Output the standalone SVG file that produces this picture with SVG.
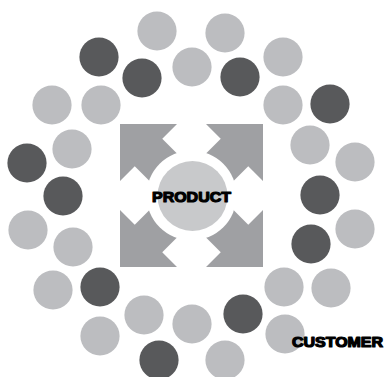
<svg xmlns="http://www.w3.org/2000/svg" width="384" height="377" viewBox="0 0 384 377">
<defs>
<style>
.l{fill:#bcbdc0}
.d{fill:#58595b}
.a{fill:#9fa0a3}
.t{font-family:"Liberation Sans",Arial,sans-serif;font-weight:bold;fill:#000;stroke:#000;stroke-width:1.2;stroke-linejoin:round}
</style>
<path id="arr" d="M-71.5,-71.5 L-14.5,-71.5 L-29.25,-56.75 L3.75,-23.75 L-23.75,3.75 L-56.75,-29.25 L-71.5,-14.5 Z"/>
</defs>
<rect width="384" height="377" fill="#fff"/>
<g id="circles">
<circle class="l" cx="157" cy="31" r="19.6"/>
<circle class="l" cx="225" cy="33" r="19.6"/>
<circle class="d" cx="99" cy="57" r="19.6"/>
<circle class="l" cx="192" cy="67" r="19.6"/>
<circle class="d" cx="142" cy="78" r="19.6"/>
<circle class="d" cx="240" cy="77" r="19.6"/>
<circle class="l" cx="283" cy="57" r="19.6"/>
<circle class="l" cx="52" cy="105" r="19.6"/>
<circle class="l" cx="101" cy="105" r="19.6"/>
<circle class="l" cx="283" cy="105" r="19.6"/>
<circle class="d" cx="330" cy="104" r="19.6"/>
<circle class="l" cx="72" cy="149" r="19.6"/>
<circle class="d" cx="27" cy="163" r="19.6"/>
<circle class="l" cx="310" cy="145" r="19.6"/>
<circle class="l" cx="355" cy="162" r="19.6"/>
<circle class="d" cx="63" cy="196" r="19.6"/>
<circle class="d" cx="320" cy="195" r="19.6"/>
<circle class="l" cx="28" cy="230" r="19.6"/>
<circle class="l" cx="73" cy="247" r="19.6"/>
<circle class="l" cx="355" cy="229" r="19.6"/>
<circle class="d" cx="311" cy="244" r="19.6"/>
<circle class="l" cx="53" cy="290" r="19.6"/>
<circle class="d" cx="100" cy="287" r="19.6"/>
<circle class="l" cx="284" cy="287" r="19.6"/>
<circle class="l" cx="331" cy="288" r="19.6"/>
<circle class="l" cx="144" cy="315" r="19.6"/>
<circle class="l" cx="192" cy="324" r="19.6"/>
<circle class="d" cx="243" cy="314" r="19.6"/>
<circle class="l" cx="100" cy="336" r="19.6"/>
<circle class="l" cx="285" cy="334" r="19.6"/>
<circle class="d" cx="159" cy="360" r="19.6"/>
<circle class="l" cx="225" cy="360" r="19.6"/>
</g>
<g id="arrows" transform="translate(191.5,195.5)">
<use href="#arr" class="a"/>
<use href="#arr" class="a" transform="scale(-1,1)"/>
<use href="#arr" class="a" transform="scale(1,-1)"/>
<use href="#arr" class="a" transform="scale(-1,-1)"/>
<circle r="45" fill="#fff"/>
</g>
<g id="product">
<circle cx="192.5" cy="196" r="35" fill="#c8c9cb"/>
<text class="t" x="191.5" y="202" font-size="15.5" text-anchor="middle" textLength="79" lengthAdjust="spacingAndGlyphs">PRODUCT</text>
</g>
<g id="customer">
<text class="t" x="292" y="347" font-size="14" textLength="91" lengthAdjust="spacingAndGlyphs">CUSTOMER</text>
</g>
</svg>
